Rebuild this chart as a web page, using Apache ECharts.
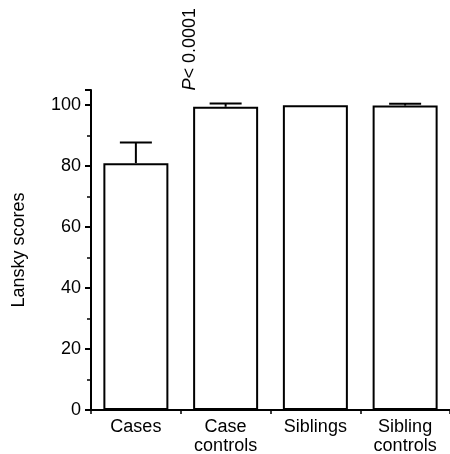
<!DOCTYPE html>
<html>
<head>
<meta charset="utf-8">
<script src="https://cdn.jsdelivr.net/npm/echarts@6/dist/echarts.min.js"></script>
<style>
html,body{margin:0;padding:0;background:#fff;}
#chart{width:450px;height:454px;}
</style>
</head>
<body>
<div id="chart"></div>
<script>
var categories = ['Cases', 'Case\ncontrols', 'Siblings', 'Sibling\ncontrols'];
var meanScores = [81, 99.5, 100, 99.9];
var upperErr = [87.8, 100.6, 100, 100.5];
var yTicks = [0, 20, 40, 60, 80, 100];

var fontFam = 'Liberation Sans, Arial, Helvetica, sans-serif';
var chart = echarts.init(document.getElementById('chart'));

var errData = [];
for (var i = 0; i < categories.length; i++) {
	errData.push([i, meanScores[i], upperErr[i]]);
}

var option = {
	animation: false,
	backgroundColor: '#fff',
	grid: {left: 91, right: 0, top: 90, bottom: 44, outerBoundsMode: 'none', containLabel: false},
	xAxis: {
		type: 'category',
		data: categories,
		axisLine: {lineStyle: {color: '#000', width: 2}},
		axisTick: {show: true, interval: 0, length: 4, lineStyle: {color: '#000', width: 1.5}},
		axisLabel: {color: '#000', fontSize: 18, fontFamily: fontFam, lineHeight: 19, margin: 8, interval: 0}
	},
	yAxis: {
		type: 'value',
		min: 0,
		max: 105,
		interval: 20,
		name: 'Lansky scores',
		nameLocation: 'middle',
		nameGap: 63,
		nameTextStyle: {color: '#000', fontSize: 18, fontFamily: fontFam},
		axisLine: {show: true, lineStyle: {color: '#000', width: 2}},
		axisTick: {show: true, length: 6, lineStyle: {color: '#000', width: 2}},
		minorTick: {show: true, splitNumber: 2, length: 4, lineStyle: {color: '#000', width: 1.5}},
		splitLine: {show: false},
		axisLabel: {
			color: '#000', fontSize: 18, fontFamily: fontFam, margin: 10,
			formatter: function (v) { return yTicks.indexOf(v) >= 0 ? v : ''; }
		}
	},
	graphic: [{
		type: 'text',
		left: 181,
		top: 8,
		rotation: Math.PI / 2,
		style: {
			rich: {
				p: {fontStyle: 'italic', fontSize: 18, fontFamily: fontFam, fill: '#000'},
				t: {fontSize: 18, fontFamily: fontFam, fill: '#000'}
			},
			text: '{p|P}{t|< 0.0001}',
			fill: '#000'
		}
	}],
	series: [{
		type: 'bar',
		data: meanScores,
		barWidth: 65,
		itemStyle: {color: '#fff', borderColor: '#000', borderWidth: 2},
		z: 2
	}, {
		type: 'custom',
		data: errData,
		z: 3,
		renderItem: function (params, api) {
			var base = api.coord([api.value(0), api.value(1)]);
			var top = api.coord([api.value(0), api.value(2)]);
			if (base[1] - top[1] < 1) return null;
			var half = 16;
			return {
				type: 'group',
				children: [{
					type: 'line',
					shape: {x1: base[0], y1: base[1], x2: top[0], y2: top[1]},
					style: {stroke: '#000', lineWidth: 2}
				}, {
					type: 'line',
					shape: {x1: top[0] - half, y1: top[1], x2: top[0] + half, y2: top[1]},
					style: {stroke: '#000', lineWidth: 2}
				}]
			};
		}
	}]
};

chart.setOption(option);
</script>
</body>
</html>
